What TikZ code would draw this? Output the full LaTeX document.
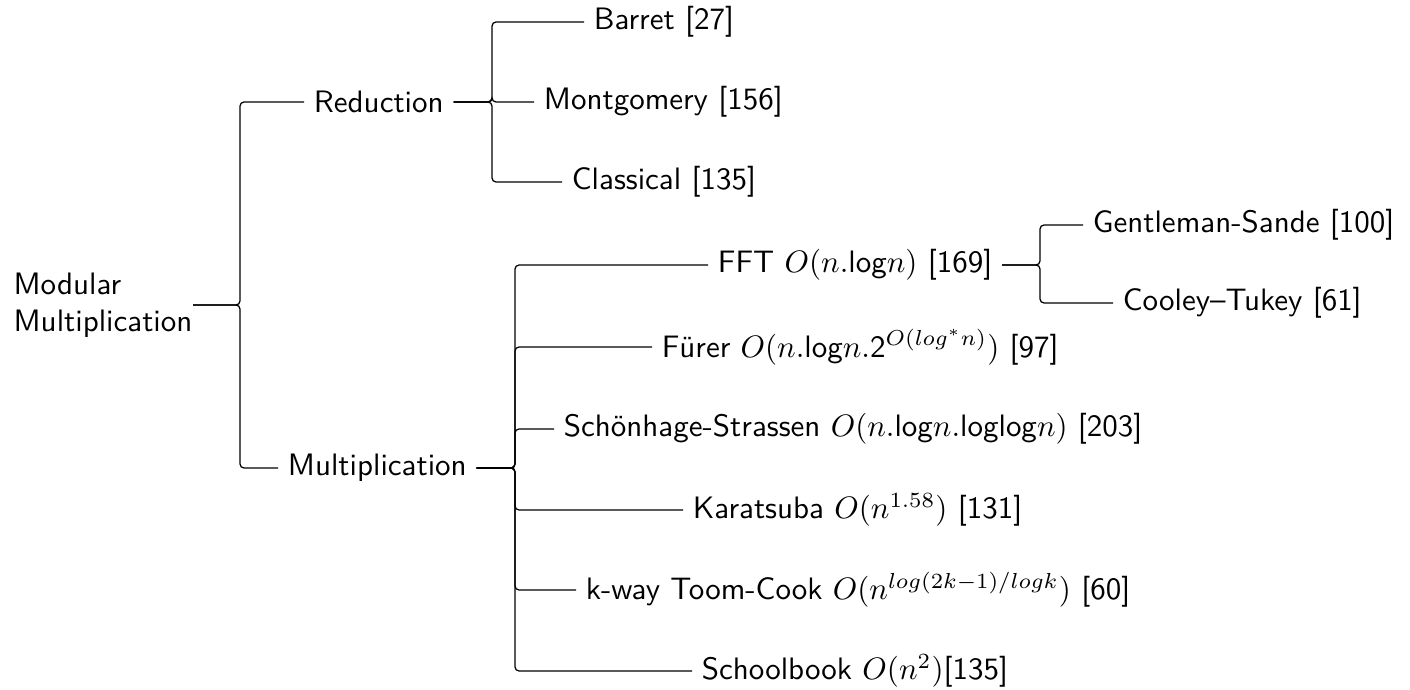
\documentclass[tikz,border=0pt]{standalone}
\usepackage{fontspec}
\begin{document}
\begin{tikzpicture}[x=0.3226pt,y=-0.3226pt,
  lbl/.style={anchor=west,inner xsep=3pt,inner ysep=1pt,font=\sffamily},
  link/.style={draw=black,line width=0.4pt,rounded corners=1.3pt}]
\useasboundingbox (0,0) rectangle (1410,690);
% root and first level
\node[lbl,align=left,inner xsep=0pt] (root) at (13,305) {Modular\\Multiplication};
\node[lbl] (red) at (304,102) {Reduction};
\node[lbl] (mul) at (278,468) {Multiplication};
% reduction methods
\node[lbl] (bar) at (584,22) {Barret [27]};
\node[lbl] (mon) at (534,102) {Montgomery [156]};
\node[lbl] (cla) at (562,182) {Classical [135]};
% multiplication methods
\node[lbl] (fft) at (708,265) {FFT $O(n.$log$n)$ [169]};
\node[lbl] (fur) at (652,347) {Fürer $O(n.$log$n.$2$^{O(log^*n)})$ [97]};
\node[lbl] (sch) at (554,429) {Schönhage-Strassen $O(n.$log$n.$loglog$n)$ [203]};
\node[lbl] (kar) at (683,510) {Karatsuba $O(n^{1.58})$ [131]};
\node[lbl] (too) at (576,590) {k-way Toom-Cook $O(n^{log(2k-1)/logk})$ [60]};
\node[lbl] (sbk) at (692,671) {Schoolbook $O(n^2)$[135]};
% FFT variants
\node[lbl] (gen) at (1083,225) {Gentleman-Sande [100]};
\node[lbl] (coo) at (1113,303) {Cooley–Tukey [61]};
% brace-like connectors: stub from the parent, then a vertical run to each child
\foreach \c in {red,mul}
  \path[link] (root.east) -- (240,305) |- (\c.west);
\foreach \c in {bar,mon,cla}
  \path[link] (red.east) -- (492,102) |- (\c.west);
\foreach \c in {fft,fur,sch,kar,too,sbk}
  \path[link] (mul.east) -- (515,468) |- (\c.west);
\foreach \c in {gen,coo}
  \path[link] (fft.east) -- (1040,265) |- (\c.west);
\end{tikzpicture}
\end{document}
